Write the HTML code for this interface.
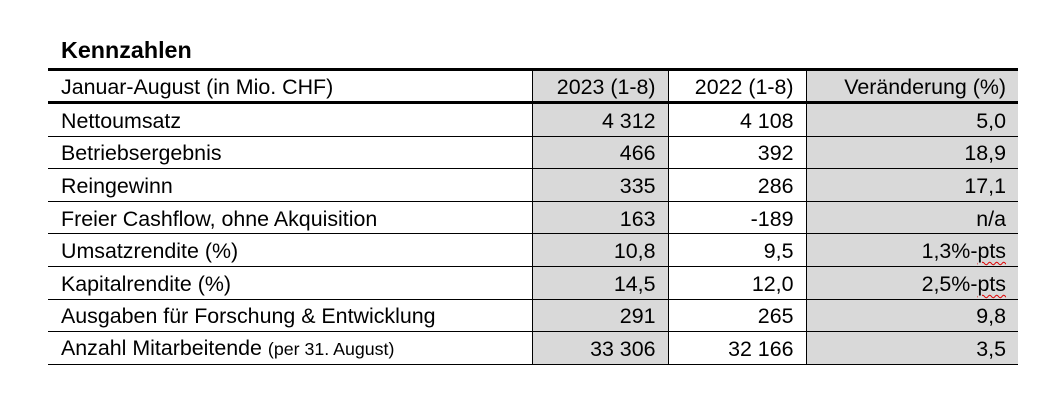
<!DOCTYPE html>
<html><head><meta charset="utf-8"><style>
body{margin:0;width:1046px;height:414px;background:#fff;font-family:"Liberation Sans",Arial,sans-serif;color:#000;position:relative;overflow:hidden}
.t{position:absolute;left:61px;top:37px;font-size:23.3px;font-weight:bold}
table{position:absolute;left:48px;top:68px;width:970px;border-collapse:collapse;font-size:21.4px;table-layout:fixed}
td{height:29.6px;padding:2px 12px 0 13px;border-bottom:1px solid #000;border-left:1px solid #000;white-space:nowrap;line-height:20px;overflow:visible}
td:first-child{border-left:none}
td.n{text-align:right}
.g{background:#d9d9d9}
tr.h td{border-top:3px solid #000;border-bottom:3px solid #000;height:28px}
.s{font-size:17.8px}
.w{text-decoration:underline wavy #d00;text-decoration-thickness:1px;text-underline-offset:3px}
</style></head><body>
<div class="t">Kennzahlen</div>
<table>
<colgroup><col style="width:484px"><col style="width:136px"><col style="width:138px"><col style="width:212px"></colgroup>
<tr class="h"><td>Januar-August (in Mio. CHF)</td><td class="n g">2023 (1-8)</td><td class="n">2022 (1-8)</td><td class="n g">Veränderung (%)</td></tr>
<tr><td>Nettoumsatz</td><td class="n g">4 312</td><td class="n">4 108</td><td class="n g">5,0</td></tr>
<tr><td>Betriebsergebnis</td><td class="n g">466</td><td class="n">392</td><td class="n g">18,9</td></tr>
<tr><td>Reingewinn</td><td class="n g">335</td><td class="n">286</td><td class="n g">17,1</td></tr>
<tr><td>Freier Cashflow, ohne Akquisition</td><td class="n g">163</td><td class="n">-189</td><td class="n g">n/a</td></tr>
<tr><td>Umsatzrendite (%)</td><td class="n g">10,8</td><td class="n">9,5</td><td class="n g">1,3%-<span class="w">pts</span></td></tr>
<tr><td>Kapitalrendite (%)</td><td class="n g">14,5</td><td class="n">12,0</td><td class="n g">2,5%-<span class="w">pts</span></td></tr>
<tr><td>Ausgaben für Forschung &amp; Entwicklung</td><td class="n g">291</td><td class="n">265</td><td class="n g">9,8</td></tr>
<tr><td>Anzahl Mitarbeitende <span class="s">(per 31. August)</span></td><td class="n g">33 306</td><td class="n">32 166</td><td class="n g">3,5</td></tr>
</table>
</body></html>
